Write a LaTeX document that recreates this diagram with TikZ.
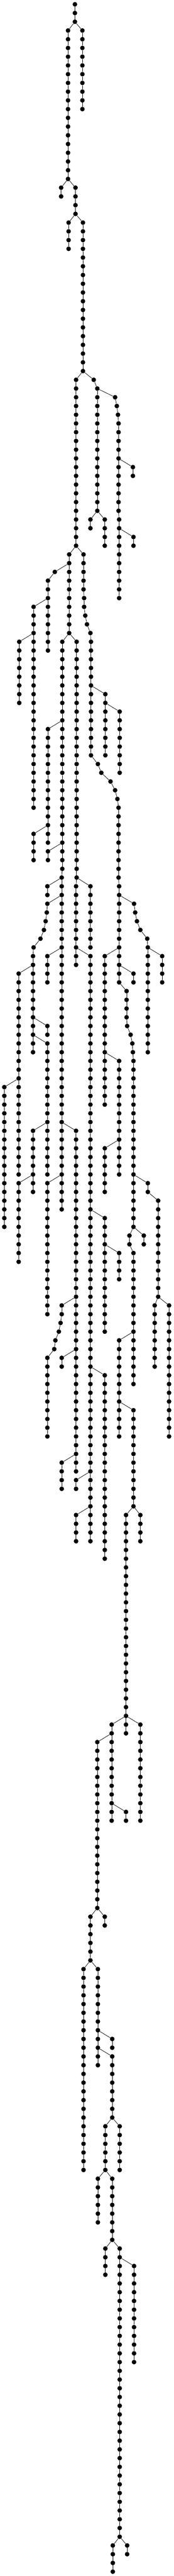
\documentclass[tikz,border=0pt]{standalone}

\begin{document}
\begin{tikzpicture}[x=0.33333pt,y=-20.266pt,
	dot/.style={circle,fill=black,inner sep=0pt,minimum size=10.7pt},
	link/.style={black,line width=0.9pt}]

	\useasboundingbox (0,-0.4934) rectangle (1209,294.5);

	\node[dot] (n522-0) at (522,0) {};

	\foreach \col/\first/\last/\parent in {
		522/1/2/522, 574/3/12/522, 474/3/20/522, 426/21/22/474, 526/21/24/474,
		478/25/28/526, 578/25/42/526, 530/43/62/578, 653/43/43/578,
		678/44/58/653, 630/59/60/678, 730/59/62/678,
		802/45/45/678, 814/46/46/802, 822/47/47/814, 826/48/58/822,
		926/53/54/826, 830/59/68/826, 930/61/62/830,
		482/63/72/530, 382/65/65/482, 334/66/74/382, 234/69/92/334, 134/73/80/234,
		582/63/67/530, 586/68/69/582, 594/70/70/586, 606/71/71/594, 630/72/72/606,
		634/73/86/630, 734/79/86/634, 834/81/88/734,
		682/87/87/634, 706/88/88/682, 770/89/89/706, 802/90/90/770, 818/91/91/802,
		826/92/100/818, 830/101/112/826,
		934/103/103/830, 942/104/104/934, 954/105/105/942, 978/106/106/954,
		1026/107/107/978, 1030/108/120/1026, 1130/109/112/1030,
		730/109/126/830, 930/111/112/830, 882/113/116/830,
		886/117/117/882, 910/118/118/886, 922/119/119/910, 926/120/120/922,
		930/121/140/926, 830/121/134/730, 730/131/136/830,
		1030/135/136/930, 1102/137/148/1030, 1078/149/156/1102, 1178/149/164/1102,
		902/141/142/930, 1002/141/142/930, 930/143/158/902,
		830/153/164/930, 930/161/172/830, 978/173/176/930, 878/173/196/930,
		778/197/208/878, 878/197/198/878, 978/197/208/878, 878/207/208/778,
		678/199/218/778, 630/219/224/678, 730/219/220/678,
		582/225/248/630, 682/225/236/630, 782/233/234/682, 782/235/242/682,
		734/243/248/782, 834/243/248/782, 682/249/254/734, 782/249/256/734,
		734/257/260/782, 834/257/290/782, 934/259/270/834,
		786/291/294/834, 886/291/292/834,
		434/73/99/482, 534/73/100/482,
		334/83/96/434, 234/95/98/334, 334/97/98/434,
		430/100/138/434, 330/101/102/430, 330/103/103/430,
		326/104/104/330, 318/105/105/326, 306/106/106/318, 282/107/107/306,
		234/108/108/282, 230/109/120/234, 130/111/134/230, 30/124/140/130,
		330/117/118/230, 330/119/134/230, 230/129/136/330, 130/135/144/230,
		330/109/112/430, 330/135/150/430, 530/129/168/430,
		430/149/150/530, 422/151/151/430, 410/152/152/422, 386/153/153/410,
		378/154/154/386, 330/155/164/378, 430/155/156/530, 430/167/170/530,
		530/101/110/534, 630/101/108/534, 630/109/176/530,
		730/139/152/630, 830/143/146/730, 730/157/178/630,
		530/169/170/630, 530/173/176/630}
	{
		\foreach \k in {\first,...,\last} {
			\pgfmathtruncatemacro{\j}{\k-1}
			\node[dot] (n\col-\k) at (\col,\k) {};
			\ifnum\k=\first
				\draw[link] (n\parent-\j) -- (n\col-\k);
			\else
				\draw[link] (n\col-\j) -- (n\col-\k);
			\fi
		}
	}

\end{tikzpicture}
\end{document}
